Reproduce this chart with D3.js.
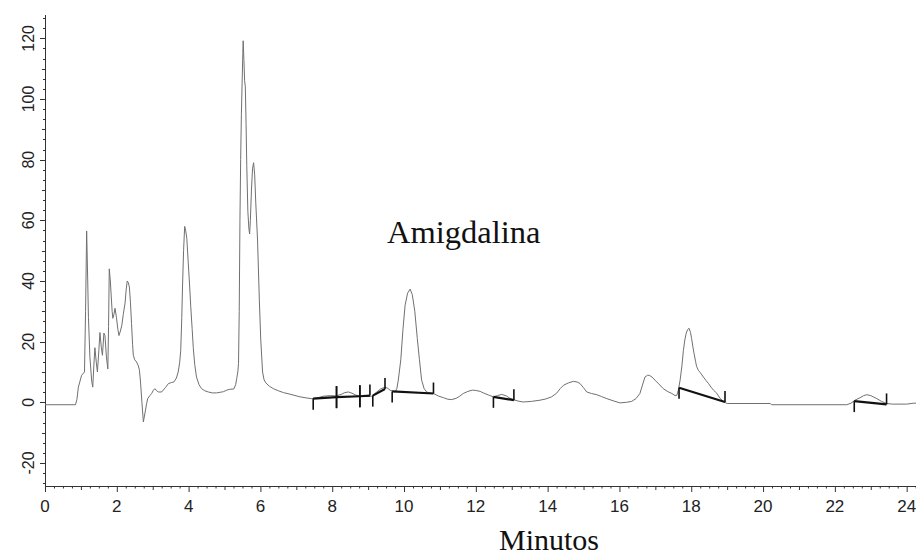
<!DOCTYPE html>
<html>
<head>
<meta charset="utf-8">
<script src="https://cdn.jsdelivr.net/npm/d3@7"></script>
<style>
  html, body { margin: 0; padding: 0; background: #fff; }
  svg { display: block; }
</style>
</head>
<body>
<div id="chart"></div>
<script>
// Chromatogram (Amigdalina)

// retention time (min) and detector signal
const time = [
  0, 0.85, 0.89, 0.93, 1.02, 1.10, 1.13, 1.16, 1.19, 1.21, 1.25, 1.30, 1.33, 1.36, 1.39, 1.43, 1.46, 1.50,
  1.53, 1.57, 1.60, 1.64, 1.67, 1.71, 1.75, 1.77, 1.79, 1.82, 1.84, 1.87, 1.89, 1.92, 1.95, 1.99, 2.03,
  2.06, 2.10, 2.14, 2.18, 2.23, 2.26, 2.29, 2.32, 2.35, 2.38, 2.41, 2.44, 2.46, 2.50, 2.55, 2.60, 2.63,
  2.66, 2.70, 2.74, 2.79, 2.83, 2.86, 2.92, 2.97, 3.02, 3.06, 3.11, 3.16, 3.25, 3.35, 3.44, 3.52, 3.59,
  3.66, 3.71, 3.75, 3.78, 3.81, 3.83, 3.86, 3.89, 3.92, 3.95, 3.99, 4.03, 4.06, 4.10, 4.13, 4.17, 4.22,
  4.29, 4.36, 4.45, 4.55, 4.66, 4.78, 4.88, 4.97, 5.06, 5.15, 5.26, 5.31, 5.34, 5.37, 5.39, 5.41, 5.43,
  5.45, 5.47, 5.49, 5.51, 5.52, 5.54, 5.56, 5.58, 5.60, 5.62, 5.65, 5.68, 5.70, 5.72, 5.75, 5.78, 5.81,
  5.84, 5.87, 5.92, 5.97, 6.01, 6.06, 6.10, 6.15, 6.25, 6.36, 6.50, 6.64, 6.85, 7.10, 7.30, 7.43, 7.60,
  7.75, 7.95, 8.10, 8.25, 8.35, 8.45, 8.55, 8.65, 8.77, 8.95, 9.10, 9.24, 9.35, 9.47, 9.55, 9.61, 9.75,
  9.80, 9.84, 9.91, 9.97, 10.03, 10.10, 10.17, 10.23, 10.30, 10.37, 10.43, 10.49, 10.56, 10.63, 10.72,
  10.82, 10.95, 11.10, 11.22, 11.33, 11.45, 11.55, 11.65, 11.78, 11.90, 12.00, 12.12, 12.21, 12.35,
  12.49, 12.60, 12.72, 12.85, 12.95, 13.04, 13.18, 13.32, 13.55, 13.79, 13.95, 14.11, 14.25, 14.35,
  14.44, 14.58, 14.72, 14.82, 14.90, 15.00, 15.09, 15.22, 15.37, 15.50, 15.65, 15.85, 16.02, 16.20,
  16.34, 16.46, 16.57, 16.65, 16.71, 16.78, 16.83, 16.91, 16.99, 17.10, 17.22, 17.35, 17.46, 17.55,
  17.60, 17.64, 17.69, 17.74, 17.78, 17.82, 17.86, 17.90, 17.94, 17.98, 18.01, 18.05, 18.08, 18.12,
  18.15, 18.20, 18.25, 18.34, 18.41, 18.48, 18.55, 18.62, 18.71, 18.80, 18.90, 19.00, 20.20, 20.24,
  22.33, 22.45, 22.56, 22.70, 22.80, 22.89, 23.00, 23.17, 23.30, 23.44, 23.60, 24.00, 24.19, 24.26
];
const signal = [
  -0.8, -0.8, 1, 5, 8.9, 10, 30, 56.5, 40, 28, 15, 7, 5, 12, 18, 13, 10, 17,
  23, 18, 15.5, 22.8, 22, 15, 11, 25, 44, 40, 36, 30, 27.7, 29, 31, 28, 24,
  22, 23.5, 25.4, 29, 32.7, 37, 40, 39.5, 38, 33, 26, 19, 15.5, 14, 13.3, 12, 10.6,
  6.7, 0, -6.5, -3.2, -0.5, 1.2, 2.2, 2.9, 4, 4.5, 3.8, 3.4, 3.4, 4.8, 6.2, 6.5, 6.7,
  8, 10, 13, 17, 28, 38, 50, 58, 56.5, 54, 46, 38, 31.5, 24, 18, 12.5, 8.3,
  5.8, 4.5, 3.8, 3.4, 3.1, 3.1, 3.3, 3.5, 4, 4.3, 4.4, 5.8, 7.8, 10, 12.8, 30, 60,
  80, 95, 105, 115, 119.2, 113, 106, 104, 92, 78, 63, 57, 55.5, 60, 70, 77, 79,
  75, 66, 53.5, 33.7, 20.5, 10, 7.5, 6.4, 5.3, 4.5, 3.8, 3.2, 2.6, 1.8, 1.4, 1.2, 1.5,
  2, 2.2, 2.1, 2.6, 3.2, 3.4, 3, 2.4, 2, 1.9, 2, 3.4, 4.4, 5, 4.6, 4, 3.4,
  4.5, 7.3, 14, 24, 32, 36, 37.3, 35.5, 30, 21, 14, 7.3, 4.5, 3.4, 3.1,
  2.9, 2.1, 1.5, 1, 0.9, 1.3, 2, 2.9, 3.6, 4, 3.9, 3.6, 3.1, 2.4,
  1.8, 2.2, 2.6, 2.1, 1.3, 0.9, 0.4, 0.1, 0.3, 0.7, 1.1, 1.8, 3, 4.5,
  5.6, 6.4, 6.9, 6.7, 6.2, 4.8, 3.4, 2.9, 2.5, 1.9, 1.2, 0.4, -0.2, 0,
  0.3, 1.2, 2.9, 6, 8.3, 8.9, 8.9, 8.3, 7.3, 6, 4.5, 3.5, 2.9, 2.2,
  2.3, 4, 7.3, 12, 17, 20.5, 22.8, 24, 24.4, 23, 21, 18, 16, 13.5,
  11.8, 10.5, 9.8, 8.3, 7.2, 6.2, 5, 4, 3, 1.3, 0.2, -0.4, -0.4, -0.8,
  -0.8, -0.3, 0.7, 1.5, 2.2, 2.5, 2.2, 1.2, 0.3, -0.4, -0.6, -0.6, -0.3, -0.3
];

// integration baselines: start time, start signal, end time, end signal
const baseStart = [7.47, 8.12, 8.77, 9.13, 9.67, 12.49, 17.66, 22.54];
const baseStartV = [1.2, 1.7, 2.0, 2.2, 3.6, 1.8, 4.8, 0.4];
const baseEnd = [8.12, 8.77, 9.05, 9.47, 10.82, 13.06, 18.94, 23.44];
const baseEndV = [1.7, 2.0, 2.2, 4.4, 2.9, 0.7, 0.1, -0.7];
// marker at each end: "down", "up", "both"
const startMark = ["down", "both", "both", "down", "down", "down", "down", "down"];
const endMark = ["both", "both", "up", "up", "up", "up", "up", "up"];

const xTicks = [0, 2, 4, 6, 8, 10, 12, 14, 16, 18, 20, 22, 24];
const yTicks = [-20, 0, 20, 40, 60, 80, 100, 120];

const width = 916, height = 559;

const svg = d3.select('#chart').append('svg')
  .attr('width', width)
  .attr('height', height)
  .style('background', '#fff');

const x = d3.scaleLinear().domain([0, 24.26]).range([45, 916]);
const y = d3.scaleLinear().domain([-27.6, 127.7]).range([486, 15]);

const axisColor = '#333';
const labelFont = '"Liberation Sans", Arial, sans-serif';

// minor ticks (x every 0.25 min, y every 20/6)
const xMinor = d3.range(0, 24.26, 0.25);
const yMinor = d3.range(-20, 127.7, 10 / 3).concat(d3.range(-20, -27.6, -10 / 3));

svg.append('g')
  .attr('stroke', axisColor)
  .attr('stroke-width', 1)
  .selectAll('line')
  .data(xMinor)
  .join('line')
  .attr('x1', d => x(d) + 0.5).attr('x2', d => x(d) + 0.5)
  .attr('y1', 486)
  .attr('y2', d => 486 + (Math.abs(d % 2) < 1e-6 ? 6 : Math.abs(d % 1) < 1e-6 ? 4 : 2.5));

svg.append('g')
  .attr('stroke', axisColor)
  .attr('stroke-width', 1)
  .selectAll('line')
  .data(yMinor)
  .join('line')
  .attr('y1', d => Math.round(y(d)) + 0.5).attr('y2', d => Math.round(y(d)) + 0.5)
  .attr('x1', 45)
  .attr('x2', d => {
    const r = Math.abs(d % 20);
    if (r < 1e-6 || Math.abs(r - 20) < 1e-6) return 40;
    if (Math.abs(r - 10) < 1e-6) return 42;
    return 43;
  });

// axis lines
svg.append('line')
  .attr('x1', 45.5).attr('x2', 45.5).attr('y1', 15).attr('y2', 486.5)
  .attr('stroke', axisColor);
svg.append('line')
  .attr('x1', 45).attr('x2', 916).attr('y1', 486.5).attr('y2', 486.5)
  .attr('stroke', axisColor);

// tick labels
svg.append('g')
  .selectAll('text')
  .data(xTicks)
  .join('text')
  .attr('x', d => x(d))
  .attr('y', 512)
  .attr('text-anchor', 'middle')
  .style('font-family', labelFont)
  .style('font-size', '17px')
  .attr('fill', '#222')
  .text(d => d);

svg.append('g')
  .selectAll('text')
  .data(yTicks)
  .join('text')
  .attr('transform', d => `translate(34,${y(d)}) rotate(-90)`)
  .attr('text-anchor', 'middle')
  .style('font-family', labelFont)
  .style('font-size', '16px')
  .attr('fill', '#222')
  .text(d => d);

// clipped y-axis unit label (only a sliver is visible in the original)
svg.append('clipPath').attr('id', 'unitclip')
  .append('rect').attr('x', 7).attr('y', 140).attr('width', 4).attr('height', 60);
svg.append('text')
  .attr('clip-path', 'url(#unitclip)')
  .attr('transform', 'translate(17,168) rotate(-90)')
  .attr('text-anchor', 'middle')
  .style('font-family', labelFont)
  .style('font-size', '14px')
  .attr('fill', '#333')
  .text('mAU');

// chromatogram trace
const points = time.map((t, i) => [t, signal[i]]);
const line = d3.line().x(d => x(d[0])).y(d => y(d[1]));

svg.append('path')
  .datum(points)
  .attr('fill', 'none')
  .attr('stroke', '#707070')
  .attr('stroke-width', 1)
  .attr('stroke-linejoin', 'round')
  .attr('d', line);

// integration baselines
const segs = baseStart.map((t, i) => ({
  t0: t, v0: baseStartV[i], t1: baseEnd[i], v1: baseEndV[i], m0: startMark[i], m1: endMark[i]
}));

const bl = svg.append('g').attr('stroke', '#111').attr('fill', 'none');

bl.selectAll('line.seg')
  .data(segs)
  .join('line')
  .attr('class', 'seg')
  .attr('x1', d => x(d.t0)).attr('y1', d => y(d.v0))
  .attr('x2', d => x(d.t1)).attr('y2', d => y(d.v1))
  .attr('stroke-width', 2.2);

const marks = [];
segs.forEach(d => {
  marks.push({t: d.t0, v: d.v0, dir: d.m0});
  marks.push({t: d.t1, v: d.v1, dir: d.m1});
});

bl.selectAll('line.mark')
  .data(marks)
  .join('line')
  .attr('class', 'mark')
  .attr('x1', d => x(d.t)).attr('x2', d => x(d.t))
  .attr('y1', d => y(d.v) + (d.dir === 'up' ? -11 : d.dir === 'both' ? -11 : 0))
  .attr('y2', d => y(d.v) + (d.dir === 'down' ? 11 : d.dir === 'both' ? 11 : 0))
  .attr('stroke-width', 1.6);

// annotations
svg.append('text')
  .attr('x', 387)
  .attr('y', 243)
  .style('font-family', '"Liberation Serif", "Times New Roman", serif')
  .style('font-size', '32.5px')
  .attr('fill', '#111')
  .text('Amigdalina');

svg.append('text')
  .attr('x', 549)
  .attr('y', 550)
  .attr('text-anchor', 'middle')
  .style('font-family', '"Liberation Serif", "Times New Roman", serif')
  .style('font-size', '30px')
  .attr('fill', '#111')
  .text('Minutos');
</script>
</body>
</html>
